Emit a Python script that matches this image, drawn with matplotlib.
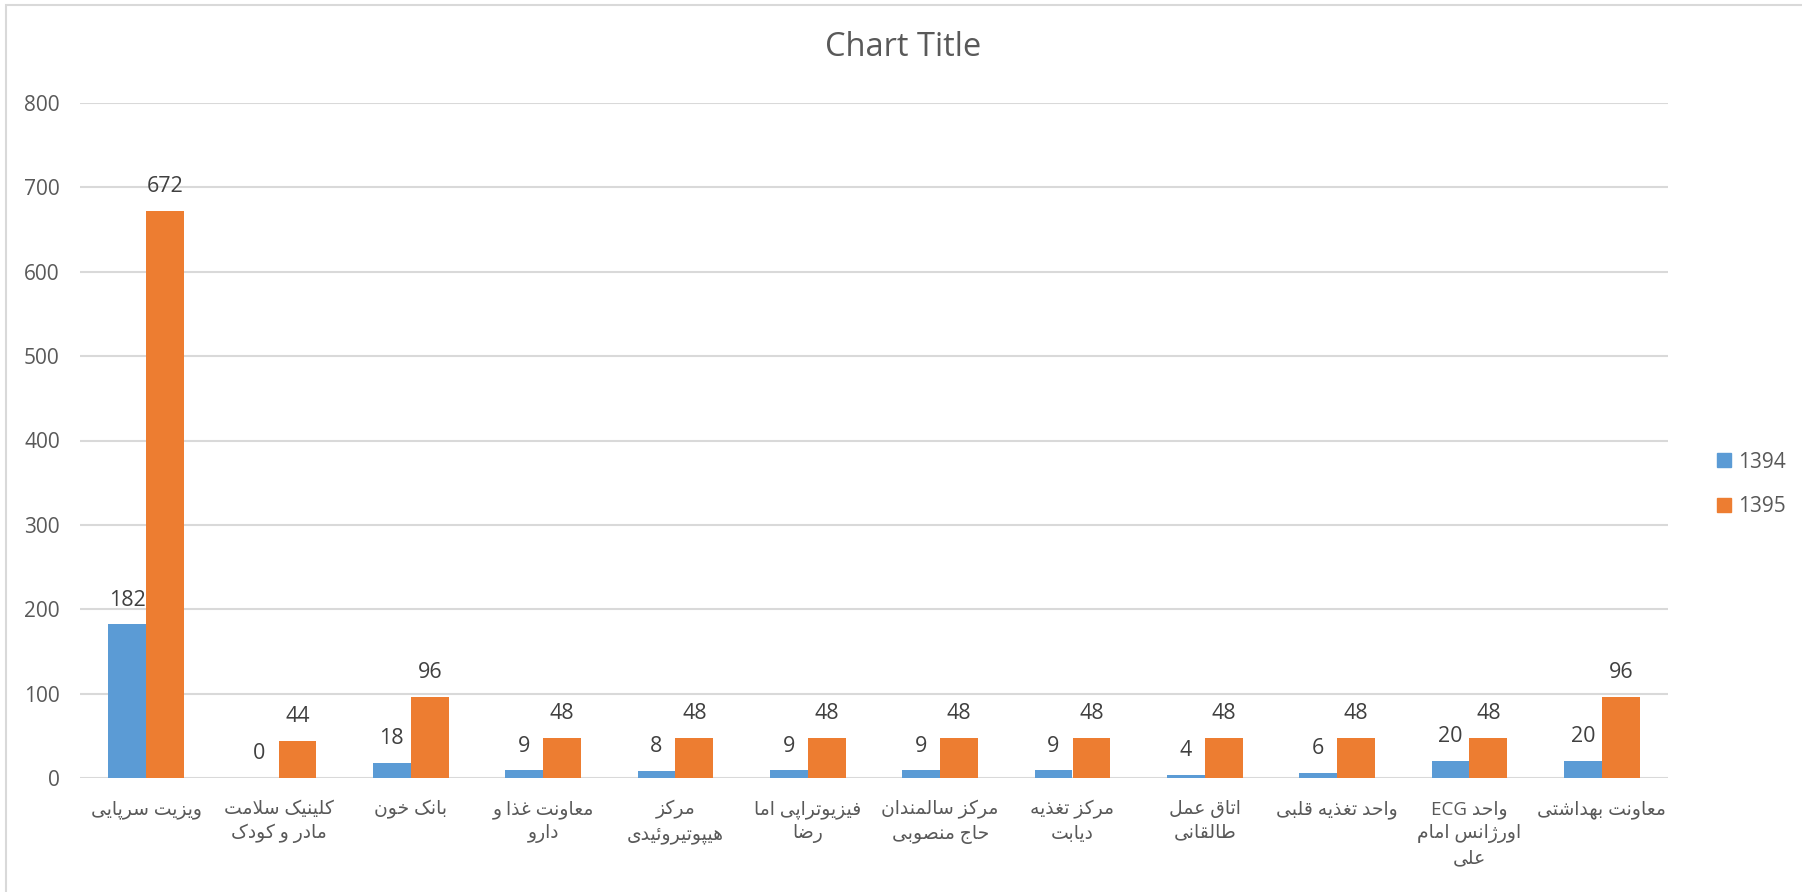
import matplotlib
matplotlib.use('Agg')
import matplotlib.pyplot as plt
import numpy as np
from matplotlib.patches import Rectangle, Patch

plt.rcParams['font.family'] = ['Open Sans', 'DejaVu Sans']

# categories (line breaks as in the original chart)
categories = [
    'ویزیت سرپایی',
    'کلینیک سلامت\nمادر و کودک',
    'بانک خون',
    'معاونت غذا و\nدارو',
    'مرکز\nهیپوتیروئیدی',
    'فیزیوتراپی اما\nرضا',
    'مرکز سالمندان\nحاج منصوبی',
    'مرکز تغذیه\nدیابت',
    'اتاق عمل\nطالقانی',
    'واحد تغذیه قلبی',
    'واحد ECG\nاورژانس امام\nعلی',
    'معاونت بهداشتی',
]
series_names = ['1394', '1395']
values_1394 = [182, 0, 18, 9, 8, 9, 9, 9, 4, 6, 20, 20]
values_1395 = [672, 44, 96, 48, 48, 48, 48, 48, 48, 48, 48, 96]
y_ticks = [0, 100, 200, 300, 400, 500, 600, 700, 800]

# minimal arabic/persian shaping (matplotlib has no RTL layout)
FORMS = {
    'ا': (0xFE8D, 0xFE8E), 'د': (0xFEA9, 0xFEAA), 'ذ': (0xFEAB, 0xFEAC),
    'ر': (0xFEAD, 0xFEAE), 'ز': (0xFEAF, 0xFEB0), 'ژ': (0xFB8A, 0xFB8B),
    'و': (0xFEED, 0xFEEE),
}
for ch, base in [('ب', 0xFE8F), ('پ', 0xFB56), ('ت', 0xFE95), ('ج', 0xFE9D),
                 ('ح', 0xFEA1), ('خ', 0xFEA5), ('س', 0xFEB1), ('ش', 0xFEB5),
                 ('ص', 0xFEB9), ('ض', 0xFEBD), ('ط', 0xFEC1), ('ع', 0xFEC9),
                 ('غ', 0xFECD), ('ف', 0xFED1), ('ق', 0xFED5), ('ک', 0xFB8E),
                 ('گ', 0xFB92), ('ل', 0xFEDD), ('م', 0xFEE1), ('ن', 0xFEE5),
                 ('ه', 0xFEE9), ('ی', 0xFBFC), ('ئ', 0xFE89)]:
    FORMS[ch] = (base, base + 1, base + 2, base + 3)


def joins_next(c):
    return c in FORMS and len(FORMS[c]) == 4


def shape_word(w):
    if not any(c in FORMS for c in w):
        return w
    res = []
    i = 0
    n = len(w)
    while i < n:
        c = w[i]
        pj = i > 0 and joins_next(w[i - 1])
        if c == 'ل' and i + 1 < n and w[i + 1] == 'ا':
            res.append(chr(0xFEFC if pj else 0xFEFB))
            i += 2
            continue
        if c not in FORMS:
            res.append(c)
            i += 1
            continue
        f = FORMS[c]
        nj = len(f) == 4 and i + 1 < n and w[i + 1] in FORMS
        if len(f) == 2:
            res.append(chr(f[1] if pj else f[0]))
        else:
            res.append(chr(f[(3 if nj else 1) if pj else (2 if nj else 0)]))
        i += 1
    return ''.join(reversed(res))


def rtl(text):
    lines = []
    for line in text.split('\n'):
        words = line.split(' ')
        lines.append(' '.join(shape_word(w) for w in reversed(words)))
    return '\n'.join(lines)


blue = '#5B9BD5'
orange = '#ED7D31'
grid_c = '#D9D9D9'
txt_c = '#595959'

fig = plt.figure(figsize=(18.02, 8.92), dpi=100)
ax = fig.add_axes([80 / 1802, 1 - 778 / 892, (1668 - 80) / 1802, (778 - 103) / 892])

x = np.arange(len(categories))
w = 0.287
b1 = ax.bar(x - w / 2, values_1394, w, color=blue, zorder=3)
b2 = ax.bar(x + w / 2, values_1395, w, color=orange, zorder=3)
ax.bar_label(b1, padding=10, fontsize=15.5, color='#404040')
ax.bar_label(b2, padding=10, fontsize=15.5, color='#404040')

ax.set_xlim(-0.5, len(categories) - 0.5)
ax.set_ylim(0, 800)
ax.set_yticks(y_ticks)
ax.yaxis.grid(True, color=grid_c, linewidth=1.5, zorder=0)
ax.set_axisbelow(True)
for s in ax.spines.values():
    s.set_visible(False)
ax.tick_params(axis='y', length=0, pad=14.5, labelsize=15, labelcolor=txt_c)
ax.tick_params(axis='x', length=0, pad=16, labelsize=13.5, labelcolor=txt_c)
ax.set_xticks(x)
ax.set_xticklabels([rtl(c) for c in categories], ha='center', va='top', linespacing=1.4)

fig.text(903 / 1802, 1 - 48 / 892, 'Chart Title', ha='center', va='center',
         fontsize=23.5, color=txt_c)

handles = [Patch(color=blue), Patch(color=orange)]
fig.legend(handles, series_names, loc='center left',
           bbox_to_anchor=(1717 / 1802, 1 - 484.5 / 892), frameon=False,
           fontsize=15, labelcolor=txt_c, handlelength=0.65, handleheight=0.65,
           handletextpad=0.35, labelspacing=1.15, borderpad=0, borderaxespad=0)

# outer chart border (cropped at right and bottom)
fig.patches.append(Rectangle((6 / 1802, -0.1), 1.2, 1 - 4.5 / 892 + 0.1,
                             transform=fig.transFigure, fill=False,
                             edgecolor=grid_c, linewidth=1.5))

fig.savefig('out.png', dpi=100)
